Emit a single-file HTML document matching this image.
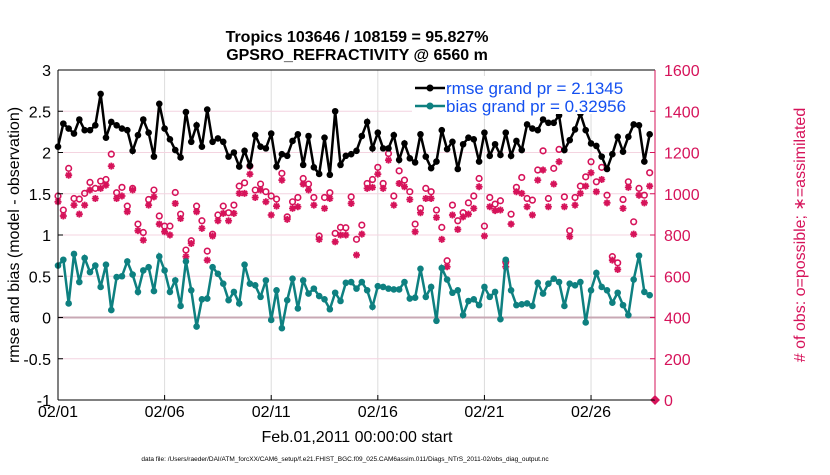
<!DOCTYPE html>
<html><head><meta charset="utf-8"><style>
body{margin:0;background:#fff;width:830px;height:470px;overflow:hidden;font-family:"Liberation Sans",sans-serif}
</style></head><body>
<svg id="chart" width="830" height="470" xmlns="http://www.w3.org/2000/svg" font-family="Liberation Sans, sans-serif">
<text x="357" y="42" font-size="16" font-weight="bold" text-anchor="middle">Tropics 103646 / 108159 = 95.827%</text>
<text x="357" y="60" font-size="16" font-weight="bold" text-anchor="middle">GPSRO_REFRACTIVITY @ 6560 m</text>
<g id="grid"></g><g id="series"></g><g id="axes"></g>
<text transform="translate(19,235) rotate(-90)" font-size="16" text-anchor="middle">rmse and bias (model - observation)</text>
<text transform="translate(805,235) rotate(-90)" font-size="16" text-anchor="middle" fill="#d6135a"># of obs: o=possible; ∗=assimilated</text>
<text x="357" y="442" font-size="16" text-anchor="middle">Feb.01,2011 00:00:00 start</text>
<text x="345" y="461" font-size="6.5" text-anchor="middle">data file: /Users/raeder/DAI/ATM_forcXX/CAM6_setup/f.e21.FHIST_BGC.f09_025.CAM6assim.011/Diags_NTrS_2011-02/obs_diag_output.nc</text>
<g id="legendg">
<rect x="412" y="76" width="240" height="38" fill="#fff"/>
<line x1="415" y1="88" x2="445" y2="88" stroke="#000" stroke-width="2.5"/><circle cx="430" cy="88" r="3.5" fill="#000"/>
<text x="446" y="94" font-size="17" fill="#1450f0">rmse grand pr = 2.1345</text>
<line x1="415" y1="106" x2="445" y2="106" stroke="#0e8080" stroke-width="2.5"/><circle cx="430" cy="106" r="3.5" fill="#0e8080"/>
<text x="446" y="112" font-size="17" fill="#1450f0">bias grand pr = 0.32956</text>
</g>
</svg>
<script>
const rmse=[2.07,2.35,2.29,2.23,2.40,2.27,2.27,2.33,2.71,2.18,2.37,2.33,2.29,2.27,2.02,2.21,2.40,2.24,1.95,2.59,2.29,2.16,2.03,1.94,2.49,2.13,2.33,2.07,2.52,2.13,2.17,2.13,1.95,2.00,1.83,2.02,1.84,2.21,2.07,
2.05,2.23,1.83,1.98,1.96,2.14,2.22,1.85,2.20,1.82,1.74,2.18,1.73,2.50,1.85,1.96,1.98,2.02,2.20,2.37,2.05,2.24,2.05,2.05,2.21,1.91,2.11,1.93,1.88,2.22,1.95,1.81,1.89,2.27,2.04,2.13,
1.80,2.10,2.18,2.16,1.89,2.24,1.96,2.10,1.97,2.24,1.96,2.14,2.03,2.34,2.29,2.27,2.40,2.36,2.36,2.45,2.03,2.15,2.28,2.47,2.27,2.11,2.08,1.95,1.80,1.98,2.19,2.01,2.19,2.34,2.33,1.89,2.22];
const bias=[0.63,0.70,0.17,0.77,0.43,0.72,0.55,0.63,0.37,0.64,0.09,0.49,0.50,0.68,0.52,0.31,0.57,0.61,0.32,0.74,0.57,0.31,0.45,0.14,0.68,0.33,-0.11,0.22,0.23,0.61,0.53,0.41,0.21,0.31,0.17,0.64,0.41,0.39,0.25,
0.45,-0.03,0.33,-0.13,0.21,0.47,0.11,0.45,0.29,0.35,0.26,0.22,0.10,0.30,0.20,0.42,0.43,0.35,0.43,0.33,0.13,0.38,0.37,0.35,0.34,0.34,0.43,0.23,0.24,0.59,0.25,0.37,-0.04,0.60,0.46,0.30,
0.33,0.03,0.20,0.22,0.15,0.37,0.25,0.31,-0.02,0.70,0.33,0.15,0.16,0.17,0.14,0.42,0.29,0.41,0.47,0.43,0.14,0.41,0.39,0.43,-0.06,0.33,0.54,0.37,0.33,0.18,0.30,0.15,0.03,0.46,0.75,0.31,0.27];
const obsPossible=[989,921,1123,977,974,1002,1055,1026,1061,1069,1192,1005,1031,940,1026,853,812,972,1018,892,843,843,1006,901,727,772,940,869,722,804,897,940,908,945,1037,1053,1134,1018,1047,
1010,989,974,1099,888,961,982,1074,1047,982,795,982,1005,808,837,835,985,779,848,1050,1069,1128,1050,1195,989,1111,1066,1010,853,929,1026,1010,921,837,675,945,
869,908,956,989,1074,843,982,950,966,670,901,1031,1079,977,969,1115,1208,977,1123,1215,985,821,982,1037,1082,1155,1058,1128,993,695,665,972,1058,864,1026,993,1102];
const obsAssim=[961,892,1090,945,901,945,1018,977,1026,1042,1134,977,989,913,1018,821,775,945,985,853,816,800,953,880,695,759,913,832,678,795,869,905,869,905,1002,1002,1095,982,1018,
961,897,940,1066,876,929,937,1047,1018,945,779,929,977,767,800,800,953,703,804,1026,1031,1095,1026,1163,945,1050,1034,972,816,908,977,977,885,779,646,897,
827,888,901,929,1034,795,937,918,921,646,853,1010,1002,937,897,1066,1115,937,1047,1155,937,792,945,1002,1037,1102,1010,1069,956,678,633,929,1031,804,993,956,1037];
const xTickDays=[0,5,10,15,20,25];
const xTickLabels=["02/01","02/06","02/11","02/16","02/21","02/26"];
const yTicks=[-1,-0.5,0,0.5,1,1.5,2,2.5,3];
const yTickLabels=["-1","-0.5","0","0.5","1","1.5","2","2.5","3"];
const y2Ticks=[0,200,400,600,800,1000,1200,1400,1600];

const NS="http://www.w3.org/2000/svg";
const L=58,R=655,T=70,B=400;
const x=d=>L+(d/28)*(R-L);
const y=v=>T+(3-v)/4*(B-T);
const y2=c=>B-c/1600*(B-T);
function mk(tag,attrs,parent){const e=document.createElementNS(NS,tag);for(const k in attrs)e.setAttribute(k,attrs[k]);parent.appendChild(e);return e;}
const grid=document.getElementById('grid'),ser=document.getElementById('series'),ax=document.getElementById('axes');
mk('rect',{x:L,y:T,width:R-L,height:B-T,fill:'#fff'},grid);
xTickDays.forEach((d,i)=>{
 const g=mk('line',{x1:x(d),x2:x(d),y1:T,y2:B,stroke:'#dcdcdc','stroke-width':1},grid);
 
 
 const t=mk('text',{x:x(d),y:B+17,'font-size':16,'text-anchor':'middle'},ax);t.textContent=xTickLabels[i];
 
 
 mk('line',{x1:x(d),x2:x(d),y1:B,y2:B-5,stroke:'#000'},ax);
});
yTicks.forEach((v,i)=>{
 const g=mk('line',{x1:L,x2:R,y1:y(v),y2:y(v),stroke:'#f4d4e0','stroke-width':1},grid);
 
 
 const t=mk('text',{x:L-7,y:y(v)+6,'font-size':16,'text-anchor':'end'},ax);t.textContent=yTickLabels[i];
 
 
 mk('line',{x1:L,x2:L+5,y1:y(v),y2:y(v),stroke:'#000'},ax);
});
y2Ticks.forEach(c=>{
 const t=mk('text',{x:R+9,y:y2(c)+6,'font-size':16,fill:'#d6135a'},ax);t.textContent=String(c);
 
 
 mk('line',{x1:R,x2:R-5,y1:y2(c),y2:y2(c),stroke:'#d6135a'},ax);
});
const zl=mk('line',{x1:L,x2:R,y1:y(0),y2:y(0),stroke:'#c8a8b4','stroke-width':2},grid);


mk('line',{x1:L,x2:L,y1:T,y2:B,stroke:'#000'},ax);
mk('line',{x1:L,x2:R,y1:B,y2:B,stroke:'#000'},ax);
mk('line',{x1:L,x2:R,y1:T,y2:T,stroke:'#000'},ax);
mk('line',{x1:R,x2:R,y1:T,y2:B,stroke:'#d6135a'},ax);
obsPossible.forEach((c,i)=>{
 const e=mk('circle',{cx:x(i/4),cy:y2(c),r:2.8,fill:'none',stroke:'#d6135a','stroke-width':1.6},ser);
 
 
});
obsAssim.forEach((c,i)=>{
 const cx=x(i/4),cy=y2(c),s=3.5,d=2.5;
 const e=mk('path',{d:`M${cx-s} ${cy}H${cx+s}M${cx} ${cy-s}V${cy+s}M${cx-d} ${cy-d}L${cx+d} ${cy+d}M${cx-d} ${cy+d}L${cx+d} ${cy-d}`,stroke:'#d6135a','stroke-width':1.8,fill:'none'},ser);
 
 
});
const dm=mk('path',{d:`M${R} ${B-5} L${R+5} ${B} L${R} ${B+5} L${R-5} ${B} Z`,fill:'#d6135a'},ser);


function line(vals,color,name){
 const p=mk('polyline',{points:vals.map((v,i)=>x(i/4)+','+y(v)).join(' '),fill:'none',stroke:color,'stroke-width':2.5},ser);
 
 
 vals.forEach((v,i)=>{
  const c=mk('circle',{cx:x(i/4),cy:y(v),r:3.3,fill:color},ser);
  
  
 });
}
line(bias,'#0e8080','bias');
line(rmse,'#000','rmse');
ser.appendChild(document.getElementById('legendg'));
</script>
</body></html>
